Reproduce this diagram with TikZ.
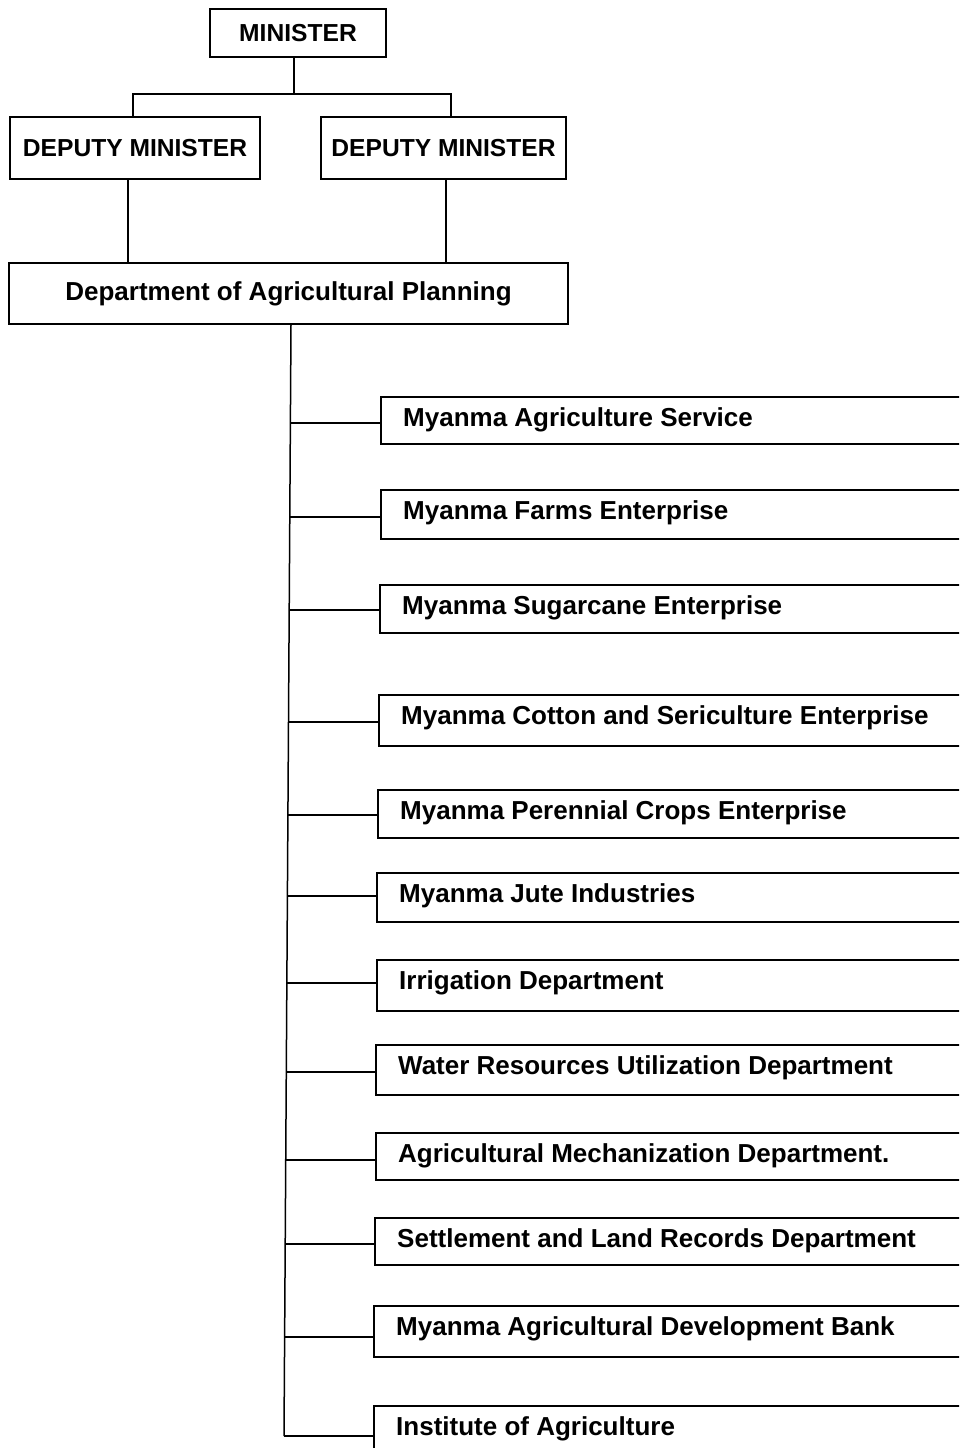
\documentclass[tikz,border=0pt]{standalone}
\usepackage{fontspec}
\setmainfont{Liberation Sans}
\usetikzlibrary{calc}
\newcommand{\capsfont}{\bfseries\fontsize{24.6}{28}\selectfont}
\newcommand{\orgfont}{\bfseries\fontsize{26}{29}\selectfont}
\tikzset{
  org/.style={draw, line width=1.5pt, font=\orgfont, inner sep=0pt},
  unit/.style={draw, line width=1.5pt, anchor=north west, minimum width=700pt, inner sep=0pt},
  unitlabel/.style={anchor=west, inner sep=0pt, font=\orgfont},
  link/.style={line width=1.5pt}
}
\begin{document}
\begin{tikzpicture}[x=1pt,y=-1pt]
\useasboundingbox (0,0) rectangle (959,1448);
\clip (0,0) rectangle (959,1448);

% top of the hierarchy
\node[org, font=\capsfont, minimum width=176pt, minimum height=48pt] (min) at (298,33) {MINISTER};
\node[org, font=\capsfont, minimum width=250pt, minimum height=62pt] (dep1) at (135,148) {DEPUTY MINISTER};
\node[org, font=\capsfont, minimum width=245pt, minimum height=62pt] (dep2) at (443.5,148) {DEPUTY MINISTER};
\node[org, minimum width=559pt, minimum height=61pt] (dap) at (288.5,293.5) {Department of Agricultural Planning};

\coordinate (bus) at (294,94);
\draw[link] ($(min.south)+(-4,0)$) -- (bus);
\draw[link] (dep1.north -| 133,0) |- (bus) -| (dep2.north -| 451,0);
\draw[link] (dep1.south -| 128,0) -- (dap.north -| 128,0);
\draw[link] (dep2.south -| 446,0) -- (dap.north -| 446,0);

% subordinate units (boxes run off the right edge)
\foreach \n/\x/\t/\b/\lbl in {
  1/380/396/443/{Myanma Agriculture Service},
  2/380/489/538/{Myanma Farms Enterprise},
  3/379/584/632/{Myanma Sugarcane Enterprise},
  4/378/694/745/{Myanma Cotton and Sericulture Enterprise},
  5/377/789/837/{Myanma Perennial Crops Enterprise},
  6/376/872/921/{Myanma Jute Industries},
  7/376/959/1010/{Irrigation Department},
  8/375/1044/1094/{Water Resources Utilization Department},
  9/375/1132/1179/{Agricultural Mechanization Department.},
  10/374/1217/1264/{Settlement and Land Records Department},
  11/373/1305/1356/{Myanma Agricultural Development Bank},
  12/373/1405/1470/{Institute of Agriculture}}
{
  \pgfmathsetmacro{\h}{\b-\t}
  \node[unit, minimum height=\h pt] (u\n) at (\x,\t) {};
  \node[unitlabel] (l\n) at (\x+23,\t+24) {\lbl};
}
\coordinate (s1) at (291,324);
\coordinate (s2) at (284,1436);
\draw[link] (dap.south -| s1) -- (s2);
\foreach \n/\y in {1/423,2/517,3/610,4/722,5/815,6/896,7/983,8/1072,9/1160,10/1244,11/1337,12/1436}
{
  \pgfmathsetmacro{\sx}{291-7*(\y-324)/1112}
  \draw[link] (\sx,\y) -- (u\n.west |- 0,\y);
}
\end{tikzpicture}
\end{document}
